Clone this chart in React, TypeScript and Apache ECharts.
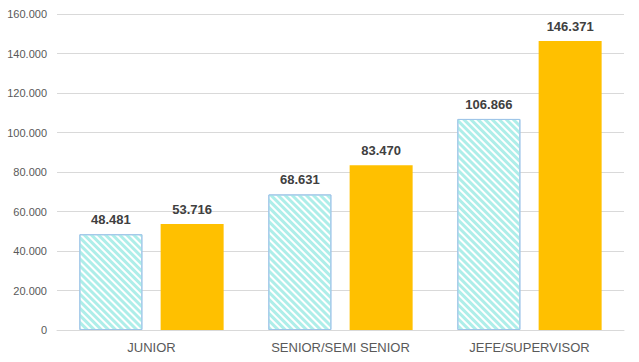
import React, { useEffect, useRef } from "react";
import * as echarts from "echarts";

const categories = ["JUNIOR", "SENIOR/SEMI SENIOR", "JEFE/SUPERVISOR"];
const seriesA = [48481, 68631, 106866];
const seriesB = [53716, 83470, 146371];
const yMax = 160000;
const yInterval = 20000;

const fmt = (v: number) => String(Math.round(v)).replace(/\B(?=(\d{3})+(?!\d))/g, ".");

export default function App() {
  const ref = useRef<HTMLDivElement>(null);
  useEffect(() => {
    if (!ref.current) return;
    const chart = echarts.init(ref.current, null, { renderer: "svg" });
    const labelStyle = {
      show: true,
      position: "top" as const,
      distance: 8,
      formatter: (p: any) => fmt(p.value),
      color: "#404040",
      fontWeight: "bold" as const,
      fontSize: 13,
      fontFamily: "Liberation Sans, Arial, sans-serif",
    };
    chart.setOption({
      animation: false,
      grid: { left: 57, right: 15, top: 14, bottom: 32, containLabel: false },
      xAxis: {
        type: "category",
        data: categories,
        axisLine: { lineStyle: { color: "#d9d9d9" } },
        axisTick: { show: false },
        axisLabel: {
          color: "#595959",
          fontSize: 13,
          margin: 11,
          fontFamily: "Liberation Sans, Arial, sans-serif",
        },
      },
      yAxis: {
        type: "value",
        min: 0,
        max: yMax,
        interval: yInterval,
        axisLine: { show: false },
        axisTick: { show: false },
        splitLine: { lineStyle: { color: "#d9d9d9" } },
        axisLabel: {
          color: "#595959",
          fontSize: 11,
          margin: 10,
          formatter: (v: number) => fmt(v),
          fontFamily: "Liberation Sans, Arial, sans-serif",
        },
      },
      series: [
        {
          type: "bar",
          data: seriesA,
          barWidth: 63,
          barGap: "29%",
          itemStyle: {
            color: "#ffffff",
            borderColor: "#9fc5e8",
            borderWidth: 1,
            decal: {
              symbol: "rect",
              symbolSize: 1,
              color: "#aeeee9",
              dashArrayX: [1, 0],
              dashArrayY: [2.2, 2],
              rotation: Math.PI / 4,
            },
          },
          label: labelStyle,
        },
        {
          type: "bar",
          data: seriesB,
          barWidth: 63,
          itemStyle: { color: "#ffc000" },
          label: labelStyle,
        },
      ],
    });
    return () => chart.dispose();
  }, []);
  return <div ref={ref} style={{ width: 639, height: 362, position: "absolute", left: 0, top: 0 }} />;
}
